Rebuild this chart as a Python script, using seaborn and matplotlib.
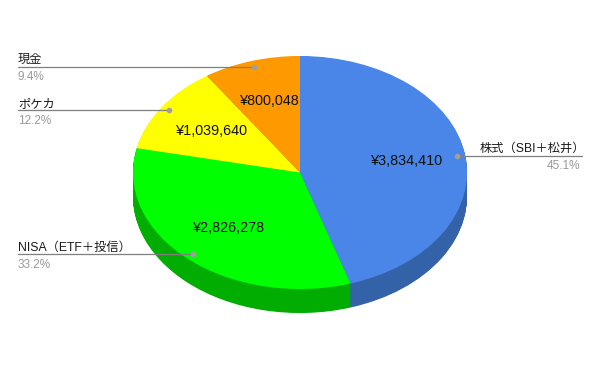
import numpy as np
import seaborn as sns
from matplotlib import pyplot as plt

# data
labels = ["株式（SBI＋松井）", "NISA（ETF＋投信）", "ポケカ", "現金"]
values = [3834410, 2826278, 1039640, 800048]
top_colors = ["#4a86e8", "#00ff00", "#ffff00", "#ff9900"]
side_colors = ["#3462a9", "#00ad00", "#b3b300", "#b36b00"]

sns.set_theme(style="white")
plt.rcParams["font.family"] = ["Liberation Sans", "Noto Sans CJK JP"]

W, H = 600, 371
cx, cy = 300, 172.5     # pixel centre of the top face
rx, ry = 167, 116.5     # ellipse radii in pixels
depth = 24
k = rx / ry

fig = plt.figure(figsize=(W / 100, H / 100), dpi=100)
ax = fig.add_axes([0, 0, 1, 1])

total = sum(values)


def fmt(p):
    return "¥{:,}".format(int(round(p * total / 100)))


center = (cx, (H - cy) * k)

# side of the 3d pie: stacked darker copies
for off in np.linspace(depth * k, 0, 40, endpoint=False):
    ax.pie(values, colors=side_colors, startangle=90, counterclock=False,
           radius=rx, center=(center[0], center[1] - off),
           wedgeprops=dict(linewidth=0))

wedges, _, autotexts = ax.pie(values, colors=top_colors, startangle=90,
                              counterclock=False, radius=rx, center=center,
                              autopct=fmt, pctdistance=0.64,
                              textprops=dict(fontsize=10.4, color="#111111"),
                              wedgeprops=dict(linewidth=0))

ax.set_xlim(0, W)
ax.set_ylim(0, H * k)
ax.set_aspect("auto")
ax.axis("off")

# overlay in pixel coords for legend labels
ov = fig.add_axes([0, 0, 1, 1])
ov.set_xlim(0, W)
ov.set_ylim(H, 0)
ov.axis("off")
ov.patch.set_alpha(0)

for w, lab, v in zip(wedges, labels, values):
    a = np.deg2rad((w.theta1 + w.theta2) / 2)
    px = cx + 0.95 * rx * np.cos(a)
    py = cy - 0.95 * ry * np.sin(a)
    pct = "{:.1f}%".format(v / total * 100)
    if np.cos(a) < 0:
        x_end, ha, tx, tx2 = 18, "left", 18, 18
    else:
        x_end, ha, tx, tx2 = 582, "right", 585, 580
    ov.plot([px, x_end], [py, py], color="#7f7f7f", lw=0.9)
    ov.plot(px, py, "o", color="#9e9e9e", ms=4, mec="none")
    ov.text(tx, py - 3.5, lab, ha=ha, va="baseline", fontsize=8.8, color="#1a1a1a")
    ov.text(tx2, py + 13.3, pct, ha=ha, va="baseline", fontsize=8.5, color="#999999")

plt.savefig("out.png", dpi=100)
